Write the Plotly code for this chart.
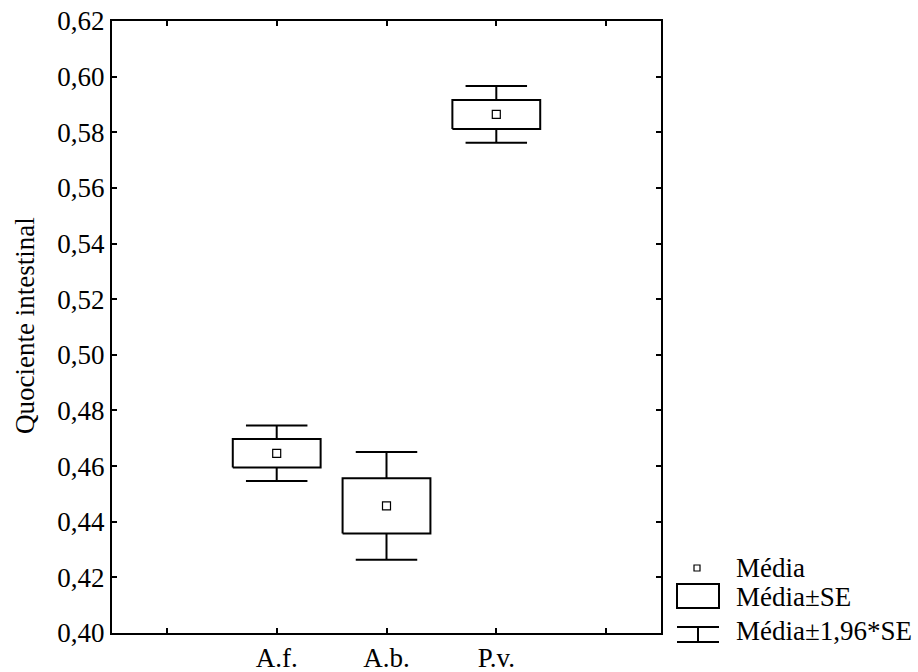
import plotly.graph_objects as go

categories = ["A.f.", "A.b.", "P.v."]
cat_pos = [1, 2, 3]
means = [0.4646, 0.4457, 0.5864]
se = [0.0051, 0.0099, 0.0052]
tick_vals_x = [0, 1, 2, 3, 4]
tick_text_x = ["", "A.f.", "A.b.", "P.v.", ""]
y_ticks = [0.40, 0.42, 0.44, 0.46, 0.48, 0.50, 0.52, 0.54, 0.56, 0.58, 0.60, 0.62]

FONT = "Liberation Serif, Times New Roman, serif"
FS = 27
BOX_HW = 0.4
CAP_HW = 0.28

fig = go.Figure()

for x, m, s in zip(cat_pos, means, se):
    lo, hi = m - s, m + s
    wlo, whi = m - 1.96 * s, m + 1.96 * s
    fig.add_trace(go.Scatter(
        x=[x - BOX_HW, x + BOX_HW, x + BOX_HW, x - BOX_HW, x - BOX_HW],
        y=[lo, lo, hi, hi, lo], mode="lines",
        line=dict(color="black", width=2), showlegend=False, hoverinfo="skip"))
    fig.add_trace(go.Scatter(
        x=[x, x, None, x - CAP_HW, x + CAP_HW, None, x, x, None, x - CAP_HW, x + CAP_HW],
        y=[hi, whi, None, whi, whi, None, lo, wlo, None, wlo, wlo], mode="lines",
        line=dict(color="black", width=2), showlegend=False, hoverinfo="skip"))

fig.add_trace(go.Scatter(
    x=cat_pos, y=means, mode="markers",
    marker=dict(symbol="square-open", size=8, color="black", line=dict(width=1.2)),
    showlegend=False, hoverinfo="skip"))

# desired plot area in page pixels (body margin removed below)
L, R, T, B = 112, 661, 21, 633
W, H = R - L, B - T
def px(xp):
    return (xp - L) / W
def py(yp):
    return (B - yp) / H

shapes = []
shapes.append(dict(type="rect", xref="paper", yref="paper",
                   x0=px(694), x1=px(700), y0=py(565), y1=py(571),
                   line=dict(color="black", width=1.2)))
shapes.append(dict(type="rect", xref="paper", yref="paper",
                   x0=px(677), x1=px(719), y0=py(584), y1=py(608),
                   line=dict(color="black", width=2)))
for (a, b, c, d) in [(677, 627, 719, 627), (677, 642, 719, 642), (698, 627, 698, 642)]:
    shapes.append(dict(type="line", xref="paper", yref="paper",
                       x0=px(a), y0=py(b), x1=px(c), y1=py(d),
                       line=dict(color="black", width=2)))

legend_labels = ["Média", "Média±SE", "Média±1,96*SE"]
legend_y = [568, 597, 631]
annotations = []
for t, yy in zip(legend_labels, legend_y):
    annotations.append(dict(text=t, xref="paper", yref="paper", x=px(734), y=py(yy),
                            xanchor="left", yanchor="middle", showarrow=False,
                            font=dict(family=FONT, size=FS, color="black")))
annotations.append(dict(text="Quociente intestinal", xref="paper", yref="paper",
                        x=px(25), y=py(326), textangle=-90, xanchor="center", yanchor="middle",
                        showarrow=False, font=dict(family=FONT, size=FS, color="black")))

fig.update_layout(
    width=918, height=672,
    margin=dict(l=L, r=918 - R, t=T, b=672 - B, autoexpand=False),
    plot_bgcolor="white", paper_bgcolor="white",
    separators=",.",
    font=dict(family=FONT, size=FS, color="black"),
    shapes=shapes, annotations=annotations,
    xaxis=dict(range=[-0.5, 4.5], tickmode="array", tickvals=tick_vals_x, ticktext=tick_text_x,
               ticks="inside", ticklen=5, tickwidth=1.5, tickcolor="black",
               showline=True, linecolor="black", linewidth=2, mirror="ticks",
               showgrid=False, zeroline=False, automargin=False, ticklabeloverflow="allow"),
    yaxis=dict(range=[0.40, 0.62], tickmode="array", tickvals=y_ticks, tickformat=".2f",
               ticks="inside", ticklen=5, tickwidth=1.5, tickcolor="black",
               showline=True, linecolor="black", linewidth=2, mirror="ticks",
               showgrid=False, zeroline=False, automargin=False, ticklabeloverflow="allow"),
)

fig.write_html("out.html", config={"displayModeBar": False},
               post_script="document.body.style.margin='0px';")
